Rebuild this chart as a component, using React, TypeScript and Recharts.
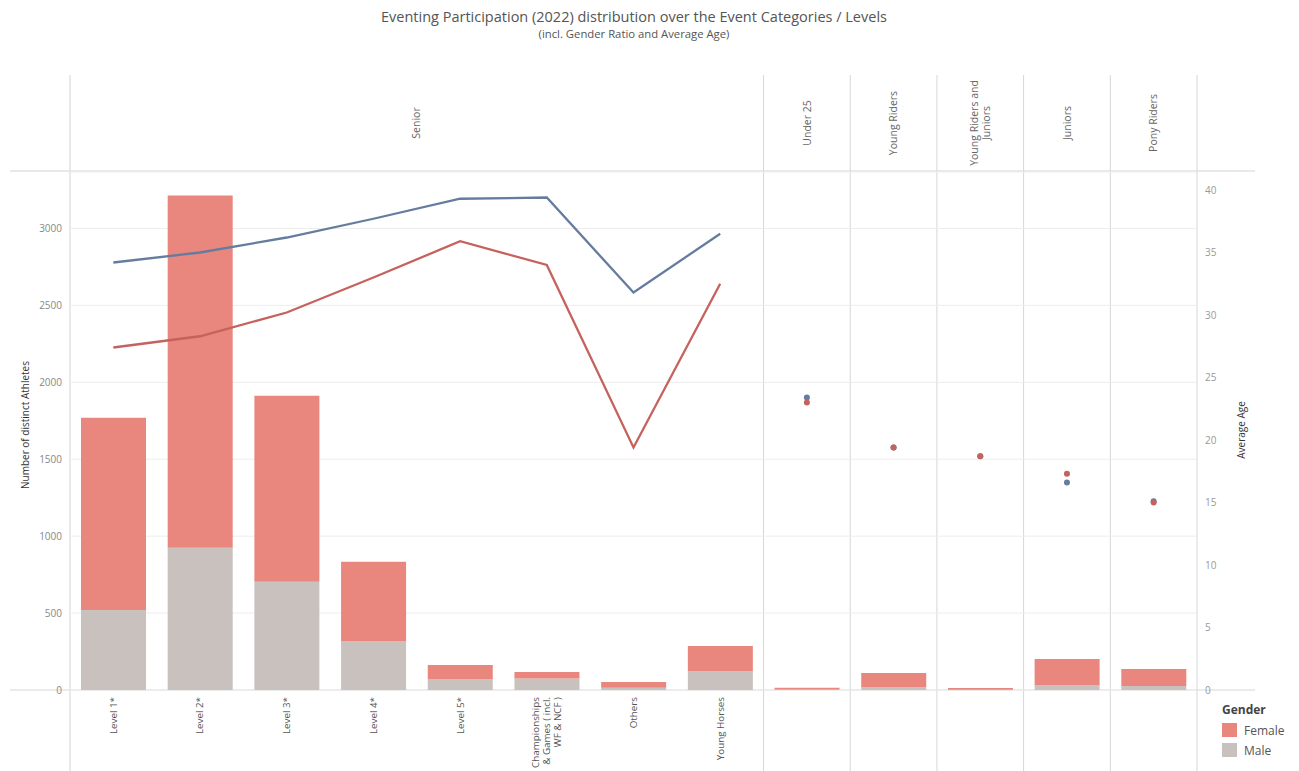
import { Bar, CartesianGrid, ComposedChart, Line, XAxis, YAxis } from 'recharts';

// panel (header) and level (bottom label) for every category slot
const groups = [
  'Senior', 'Senior', 'Senior', 'Senior', 'Senior', 'Senior', 'Senior', 'Senior',
  'Under 25', 'Young Riders', 'Young Riders and\nJuniors', 'Juniors', 'Pony Riders',
];
const levels = [
  'Level 1*', 'Level 2*', 'Level 3*', 'Level 4*', 'Level 5*',
  'Championships\n& Games ( incl.\nWF & NCF )', 'Others', 'Young Horses',
  '', '', '', '', '',
];

// number of distinct athletes
const female = [1250, 2290, 1210, 514, 91, 42, 37, 162, 12, 90, 11, 170, 111];
const male = [520, 924, 703, 319, 72, 75, 15, 124, 3, 20, 2, 32, 26];

// average age
const maleAge = [34.2, 35.0, 36.2, 37.7, 39.3, 39.4, 31.8, 36.5, 23.4, 19.4, 18.7, 16.6, 15.1];
const femaleAge = [27.4, 28.3, 30.2, 33.0, 35.9, 34.0, 19.4, 32.5, 23.0, 19.4, 18.7, 17.3, 15.0];

const athleteTicks = [0, 500, 1000, 1500, 2000, 2500, 3000];
const ageTicks = [0, 5, 10, 15, 20, 25, 30, 35, 40];

const W = 1299;
const H = 771;
const PLOT = { left: 70, right: 1197, top: 172, bottom: 690 };
const FONT = '"Open Sans", "Noto Sans", sans-serif';

const FEMALE = '#E9867E';
const MALE = '#C9C1BD';
const BLUE = '#657C9E';
const RED = '#C6625E';
const RULE = '#d6d6d6';

const data = groups.map((g, i) => {
  const senior = g === 'Senior';
  return {
    id: `${g}|${i}`,
    level: levels[i],
    female: female[i],
    male: male[i],
    maleAgeLine: senior ? maleAge[i] : null,
    femaleAgeLine: senior ? femaleAge[i] : null,
    maleAgeDot: senior ? null : maleAge[i],
    femaleAgeDot: senior ? null : femaleAge[i],
  };
});

const band = (PLOT.right - PLOT.left) / data.length;

// consecutive runs of the same panel
const panels: { name: string; start: number; end: number }[] = [];
groups.forEach((g, i) => {
  const last = panels[panels.length - 1];
  if (last && last.name === g) last.end = i + 1;
  else panels.push({ name: g, start: i, end: i + 1 });
});

function RotatedText({ x, y, text, anchor, size, fill }: any) {
  const lines = String(text).split('\n');
  const lh = size * 1.15;
  return (
    <text
      transform={`translate(${x},${y}) rotate(-90)`}
      textAnchor={anchor}
      fontSize={size}
      fill={fill}
      fontFamily={FONT}
    >
      {lines.map((l, i) => (
        <tspan key={i} x={0} dy={i === 0 ? size * 0.35 - ((lines.length - 1) / 2) * lh : lh}>
          {l}
        </tspan>
      ))}
    </text>
  );
}

function LevelTick(props: any) {
  const { x, y, index } = props;
  const label = data[index]?.level;
  if (!label) return null;
  return <RotatedText x={x} y={y - 1} text={label} anchor="end" size={9.8} fill="#555" />;
}

function Frame() {
  const top = 75;
  return (
    <svg width={W} height={H} style={{ position: 'absolute', left: 0, top: 0 }}>
      <text x={634} y={22} textAnchor="middle" fontSize={14.5} fill="#555" fontFamily={FONT}>
        Eventing Participation (2022) distribution over the Event Categories / Levels
      </text>
      <text x={634} y={38} textAnchor="middle" fontSize={11.3} fill="#555" fontFamily={FONT}>
        (incl. Gender Ratio and Average Age)
      </text>

      <line x1={10} x2={1255} y1={PLOT.top - 1} y2={PLOT.top - 1} stroke="#e2e2e2" strokeWidth={1.5} />
      <line x1={10} x2={1255} y1={PLOT.bottom} y2={PLOT.bottom} stroke={RULE} />
      <line x1={PLOT.left} x2={PLOT.left} y1={top} y2={H} stroke="#e2e2e2" strokeWidth={1.5} />
      {panels.map((p) => {
        const xe = PLOT.left + p.end * band;
        return <line key={p.name} x1={xe} x2={xe} y1={top} y2={H} stroke={RULE} />;
      })}
      {panels.map((p) => (
        <RotatedText
          key={p.name}
          x={PLOT.left + ((p.start + p.end) / 2) * band}
          y={123}
          text={p.name}
          anchor="middle"
          size={10.5}
          fill="#666"
        />
      ))}

      <RotatedText x={25} y={425} text="Number of distinct Athletes" anchor="middle" size={10} fill="#333" />
      <RotatedText x={1241} y={430} text="Average Age" anchor="middle" size={10} fill="#333" />

      <text x={1222} y={714} fontSize={12} fontWeight="bold" fill="#444" fontFamily={FONT}>
        Gender
      </text>
      <rect x={1222} y={723} width={15} height={14} fill={FEMALE} />
      <text x={1244} y={735} fontSize={12} fill="#555" fontFamily={FONT}>
        Female
      </text>
      <rect x={1222} y={743} width={15} height={14} fill={MALE} />
      <text x={1244} y={755} fontSize={12} fill="#555" fontFamily={FONT}>
        Male
      </text>
    </svg>
  );
}

export default function App() {
  return (
    <div style={{ position: 'relative', width: W, height: H, fontFamily: FONT }}>
      <style>{'body{margin:0}'}</style>
      <Frame />
      <div style={{ position: 'absolute', left: 0, top: 0 }}>
        <ComposedChart
          width={W}
          height={H}
          data={data}
          margin={{ top: PLOT.top, right: 52, bottom: 0, left: 10 }}
        >
          <CartesianGrid yAxisId="left" vertical={false} stroke="#ededed" />
          <XAxis
            dataKey="id"
            interval={0}
            height={81}
            tickLine={false}
            axisLine={false}
            tick={<LevelTick />}
          />
          <YAxis
            yAxisId="left"
            width={60}
            domain={[0, 3367]}
            ticks={athleteTicks}
            tickLine={false}
            axisLine={false}
            tick={{ fontSize: 10, fill: '#888', fontFamily: FONT }}
          />
          <YAxis
            yAxisId="right"
            orientation="right"
            width={50}
            domain={[0, 41.44]}
            ticks={ageTicks}
            tickLine={false}
            axisLine={false}
            tick={{ fontSize: 10, fill: '#999', fontFamily: FONT }}
          />
          <Bar yAxisId="left" dataKey="male" stackId="g" fill={MALE} barSize={65} isAnimationActive={false} />
          <Bar yAxisId="left" dataKey="female" stackId="g" fill={FEMALE} barSize={65} isAnimationActive={false} />
          <Line
            yAxisId="right"
            dataKey="maleAgeLine"
            stroke={BLUE}
            strokeWidth={2.3}
            dot={false}
            activeDot={false}
            isAnimationActive={false}
          />
          <Line
            yAxisId="right"
            dataKey="femaleAgeLine"
            stroke={RED}
            strokeWidth={2.3}
            dot={false}
            activeDot={false}
            isAnimationActive={false}
          />
          <Line
            yAxisId="right"
            dataKey="maleAgeDot"
            stroke="none"
            dot={{ r: 3, fill: BLUE, stroke: 'none' }}
            activeDot={false}
            isAnimationActive={false}
          />
          <Line
            yAxisId="right"
            dataKey="femaleAgeDot"
            stroke="none"
            dot={{ r: 3, fill: RED, stroke: 'none' }}
            activeDot={false}
            isAnimationActive={false}
          />
        </ComposedChart>
      </div>
    </div>
  );
}
